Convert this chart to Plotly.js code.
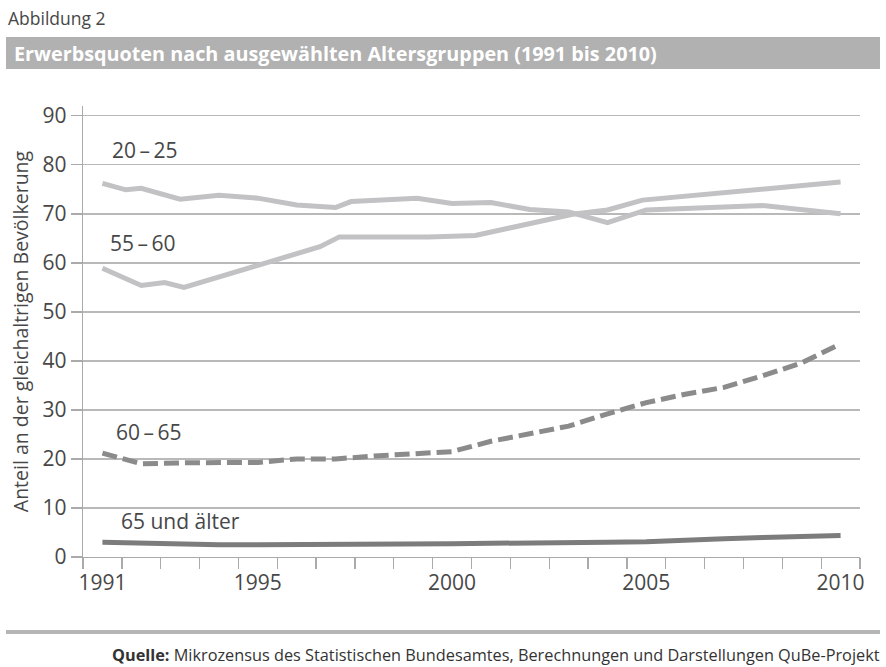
<!DOCTYPE html>
<html>
<head>
<meta charset="utf-8">
<script src="https://cdn.plot.ly/plotly-3.0.1.min.js"></script>
<style>html,body{margin:0;padding:0;background:#fff;}#chart{width:886px;height:667px;}</style>
</head>
<body>
<div id="chart"></div>
<script>
// ---- data ----
const years = [1991,1992,1993,1994,1995,1996,1997,1998,1999,2000,2001,2002,2003,2004,2005,2006,2007,2008,2009,2010];

const x2025 = [1991,1991.6,1992,1993,1994,1995,1996,1997,1997.4,1999.1,2000,2001,2002,2003,2004,2005,2008,2010];
const y2025 = [76.2,74.9,75.2,73.0,73.8,73.2,71.8,71.3,72.5,73.2,72.1,72.3,70.9,70.4,68.2,70.8,71.7,70.0];

const x5560 = [1991,1992,1992.6,1993.1,1995,1996.6,1997.1,1999.4,2000.6,2002,2003.1,2004,2004.9,2010];
const y5560 = [58.9,55.4,56.0,55.0,59.5,63.3,65.3,65.3,65.6,68.1,69.9,70.8,72.8,76.5];

const y6065 = [21.2,19.0,19.2,19.2,19.3,20.0,20.0,20.6,21.0,21.5,23.6,25.2,26.7,29.2,31.5,33.2,34.6,37.0,39.6,43.5];
const y65plus = [3.0,2.8,2.6,2.5,2.5,2.5,2.6,2.6,2.7,2.7,2.8,2.8,2.9,3.0,3.1,3.3,3.7,4.0,4.2,4.4];

const tickYears = [1991,1995,2000,2005,2010];
const tickLabels = ['1991','1995','2000','2005','2010'];

const seriesLabels = ['20\u2009–\u200925','55\u2009–\u200960','60\u2009–\u200965','65 und älter'];
const labelPos = [[1992.1,83],[1992.05,64],[1992.2,25.5],[1991.42,7.4]];

const figLabel = 'Abbildung 2';
const figTitle = 'Erwerbsquoten nach ausgewählten Altersgruppen (1991 bis 2010)';
const yTitle = 'Anteil an der gleichaltrigen Bevölkerung';
const sourceText = '<b>Quelle:</b> Mikrozensus des Statistischen Bundesamtes, Berechnungen und Darstellungen QuBe-Projekt';

// ---- layout helpers ----
const W = 886, H = 667;
const M = {l:83, r:26, t:106, b:110};
const px = x => (x - M.l) / (W - M.l - M.r);
const py = y => (H - M.b - y) / (H - M.t - M.b);

const FONT = '"Open Sans", "DejaVu Sans", sans-serif';
const light = '#c2c2c5', dark1 = '#8b8b8b', dark2 = '#7c7c7c';

const traces = [
  {x:x2025, y:y2025, mode:'lines', line:{color:light, width:5}, hoverinfo:'skip'},
  {x:x5560, y:y5560, mode:'lines', line:{color:light, width:5}, hoverinfo:'skip'},
  {x:years, y:y6065, mode:'lines', line:{color:dark1, width:5, dash:'15px,6px'}, hoverinfo:'skip'},
  {x:years, y:y65plus, mode:'lines', line:{color:dark2, width:5}, hoverinfo:'skip'}
];

const annotations = seriesLabels.map((t,i) => ({
  x: labelPos[i][0], y: labelPos[i][1], xref:'x', yref:'y', text:t, showarrow:false,
  xanchor: i===3 ? 'left' : 'center', yanchor:'middle',
  font:{family:FONT, size:21, color:'#474747'}
}));
annotations.push(
  {xref:'paper', yref:'paper', x:px(6), y:py(18), text:figLabel, showarrow:false, xanchor:'left', yanchor:'middle',
   font:{family:FONT, size:17.5, color:'#474747'}},
  {xref:'paper', yref:'paper', x:px(12), y:py(53), text:'<b>'+figTitle+'</b>', showarrow:false, xanchor:'left', yanchor:'middle',
   font:{family:FONT, size:19.8, color:'#ffffff'}},
  {xref:'paper', yref:'paper', x:px(882), y:py(655), text:sourceText, showarrow:false, xanchor:'right', yanchor:'middle',
   font:{family:FONT, size:16.3, color:'#333'}}
);

const shapes = [
  {type:'rect', xref:'paper', yref:'paper', x0:px(6), x1:px(880), y0:py(69), y1:py(37), fillcolor:'#b1b1b1', line:{width:0}, layer:'below'},
  {type:'line', xref:'paper', yref:'paper', x0:px(6), x1:px(880), y0:py(632), y1:py(632), line:{color:'#b5b5b5', width:4}}
];

const layout = {
  width:W, height:H,
  margin:M,
  paper_bgcolor:'#fff', plot_bgcolor:'#fff',
  showlegend:false,
  font:{family:FONT, color:'#474747'},
  xaxis:{
    range:[1990.5, 2010.5],
    tickmode:'array', tickvals:tickYears, ticktext:tickLabels,
    ticks:'outside', ticklen:6, tickcolor:'rgba(0,0,0,0)', showgrid:false, zeroline:false,
    showline:true, linecolor:'#aaaaaa', linewidth:1.3,
    tickfont:{family:FONT, size:21, color:'#474747'},
    minor:{tickmode:'linear', tick0:1990.5, dtick:1, ticks:'outside', ticklen:11, tickcolor:'#aaaaaa', tickwidth:1.3, showgrid:false},
    fixedrange:true
  },
  yaxis:{
    range:[0, 92],
    tickmode:'array', tickvals:[0,10,20,30,40,50,60,70,80,90],
    ticks:'outside', ticklen:11, tickcolor:'#aaaaaa', tickwidth:1.3,
    showgrid:true, gridcolor:'#b9b9b9', gridwidth:1.3,
    zeroline:false, showline:true, linecolor:'#aaaaaa', linewidth:1.3,
    tickfont:{family:FONT, size:21, color:'#474747'},
    title:{text:yTitle, font:{family:FONT, size:19.5, color:'#474747'}, standoff:8},
    fixedrange:true
  },
  annotations, shapes
};

Plotly.newPlot('chart', traces, layout, {displayModeBar:false, staticPlot:true});
</script>
</body>
</html>
